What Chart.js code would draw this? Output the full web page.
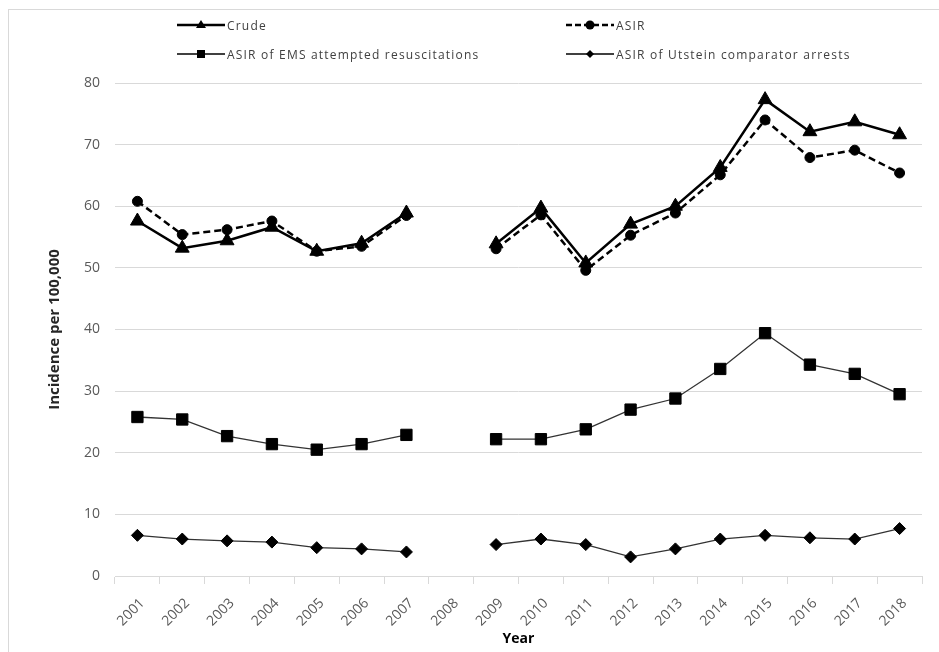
<!DOCTYPE html>
<html>
<head>
<meta charset="utf-8">
<script src="https://cdn.jsdelivr.net/npm/chart.js@4.4.1/dist/chart.umd.min.js"></script>
<style>
  html, body { margin: 0; padding: 0; background: #fff; }
  #wrap { position: relative; width: 939px; height: 652px; overflow: hidden; font-family: 'Open Sans', sans-serif; }
  #frame { position: absolute; left: 8px; top: 9px; width: 1000px; height: 700px;
           border-left: 1px solid #d9d9d9; border-top: 1px solid #d9d9d9; }
  canvas { position: absolute; left: 0; top: 0; }
  .lg { position: absolute; height: 18px; display: flex; align-items: center;
        font-size: 12px; letter-spacing: 1.2px; color: #404040; white-space: nowrap; }
  .lg svg { margin-right: 2px; }
</style>
</head>
<body>
<div id="wrap">
  <div id="frame"></div>
  <canvas id="chart" width="939" height="652"></canvas>
  <div id="legend"></div>
</div>
<script>
// --- Dados ---
const years = ['2001', '2002', '2003', '2004', '2005', '2006', '2007', '2008', '2009',
               '2010', '2011', '2012', '2013', '2014', '2015', '2016', '2017', '2018'];

// 2008 sem dados (lacuna na linha)
const crude   = [57.6, 53.2, 54.4, 56.6, 52.7, 54.0, 58.9, null, 53.9, 59.7, 50.8, 57.1, 60.0, 66.3, 77.3, 72.1, 73.7, 71.6];
const asir    = [60.8, 55.4, 56.2, 57.6, 52.7, 53.5, 58.5, null, 53.1, 58.6, 49.6, 55.3, 58.9, 65.1, 74.0, 67.9, 69.1, 65.4];
const ems     = [25.8, 25.4, 22.7, 21.4, 20.5, 21.4, 22.9, null, 22.2, 22.2, 23.8, 27.0, 28.8, 33.6, 39.4, 34.3, 32.8, 29.5];
const utstein = [6.6, 6.0, 5.7, 5.5, 4.6, 4.4, 3.9, null, 5.1, 6.0, 5.1, 3.1, 4.4, 6.0, 6.6, 6.2, 6.0, 7.7];

const yTicks = [0, 10, 20, 30, 40, 50, 60, 70, 80];

const seriesLabels = ['Crude', 'ASIR', 'ASIR of EMS attempted resuscitations', 'ASIR of Utstein comparator arrests'];

const gridColor = '#d9d9d9';
const tickColor = '#595959';

const ctx = document.getElementById('chart').getContext('2d');
const chart = new Chart(ctx, {
    type: 'line',
    data: {
        labels: years,
        datasets: [
            {
                label: seriesLabels[0], data: crude,
                borderColor: '#000', borderWidth: 2.5,
                pointStyle: 'triangle', pointRadius: 8,
                pointBackgroundColor: '#000', pointBorderColor: '#000', pointBorderWidth: 1,
            },
            {
                label: seriesLabels[1], data: asir,
                borderColor: '#000', borderWidth: 2.5, borderDash: [7, 4],
                pointStyle: 'circle', pointRadius: 5,
                pointBackgroundColor: '#000', pointBorderColor: '#000', pointBorderWidth: 1,
            },
            {
                label: seriesLabels[2], data: ems,
                borderColor: '#333', borderWidth: 1.3,
                pointStyle: 'rect', pointRadius: 8,
                pointBackgroundColor: '#000', pointBorderColor: '#000', pointBorderWidth: 1,
            },
            {
                label: seriesLabels[3], data: utstein,
                borderColor: '#333', borderWidth: 1.3,
                pointStyle: 'rectRot', pointRadius: 6,
                pointBackgroundColor: '#000', pointBorderColor: '#000', pointBorderWidth: 1,
            },
        ]
    },
    options: {
        responsive: false,
        animation: false,
        spanGaps: false,
        layout: { padding: { top: 83, right: 17, bottom: 0, left: 0 } },
        plugins: {
            legend: { display: false },
            tooltip: { enabled: false },
        },
        scales: {
            x: {
                offset: true,
                grid: { offset: true, drawOnChartArea: false, drawTicks: true, tickLength: 8, color: gridColor },
                border: { display: true, color: gridColor },
                ticks: {
                    minRotation: 45, maxRotation: 45, padding: 11, labelOffset: 5,
                    color: tickColor, font: { family: 'Open Sans', size: 14 },
                },
                title: {
                    display: true, text: 'Year', color: '#000',
                    font: { family: 'Open Sans', size: 14, weight: 'bold' },
                    padding: { top: 0, bottom: 5 },
                },
                afterFit: (scale) => { scale.height = 76; },
            },
            y: {
                min: 0, max: 80,
                afterBuildTicks: (scale) => { scale.ticks = yTicks.map(v => ({ value: v })); },
                grid: { drawTicks: false, color: gridColor, lineWidth: 1 },
                border: { display: false },
                ticks: {
                    padding: 15,
                    color: tickColor, font: { family: 'Open Sans', size: 14 },
                },
                title: {
                    display: true, text: 'Incidence per 100,000', color: '#262626',
                    font: { family: 'Open Sans', size: 15, weight: 'bold' },
                    padding: { top: 46, bottom: 0 },
                },
                afterFit: (scale) => { scale.width = 115; },
            },
        },
    },
});

// --- Legenda em HTML (duas colunas, como no original) ---
const legendSlots = [
    { left: 177, top: 16 }, { left: 566, top: 16 },
    { left: 177, top: 45 }, { left: 566, top: 45 },
];
const markerSvg = (i) => {
    const line = i === 0 ? '<line x1="0" y1="9" x2="48" y2="9" stroke="#000" stroke-width="2.5"/>'
        : i === 1 ? '<line x1="0" y1="9" x2="48" y2="9" stroke="#000" stroke-width="2.5" stroke-dasharray="6,3"/>'
        : '<line x1="0" y1="9" x2="48" y2="9" stroke="#000" stroke-width="1.3"/>';
    const mark = i === 0 ? '<polygon points="24,4 29,12 19,12" fill="#000"/>'
        : i === 1 ? '<circle cx="24" cy="9" r="4.5" fill="#000"/>'
        : i === 2 ? '<rect x="20" y="5" width="8" height="8" fill="#000"/>'
        : '<polygon points="24,5 28,9 24,13 20,9" fill="#000"/>';
    return `<svg width="48" height="18">${line}${mark}</svg>`;
};
const legendEl = document.getElementById('legend');
seriesLabels.forEach((label, i) => {
    const item = document.createElement('div');
    item.className = 'lg';
    item.style.left = legendSlots[i].left + 'px';
    item.style.top = legendSlots[i].top + 'px';
    item.innerHTML = markerSvg(i) + '<span>' + label + '</span>';
    legendEl.appendChild(item);
});
</script>
</body>
</html>
